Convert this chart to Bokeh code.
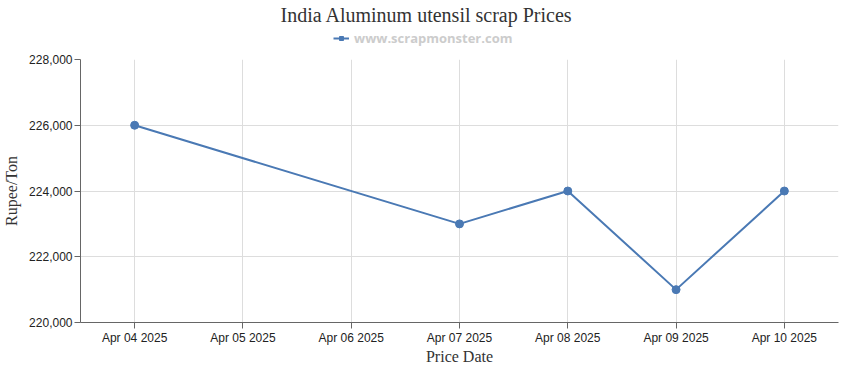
from datetime import datetime
from bokeh.plotting import figure
from bokeh.layouts import column
from bokeh.models import (Range1d, FixedTicker, DatetimeTickFormatter, NumeralTickFormatter,
                          Legend, LegendItem, Title, ColumnDataSource)
from bokeh.embed import file_html
from bokeh.resources import INLINE

dates = ["2025-04-04", "2025-04-07", "2025-04-08", "2025-04-09", "2025-04-10"]
prices = [226000, 223000, 224000, 221000, 224000]
tick_dates = ["2025-04-04", "2025-04-05", "2025-04-06", "2025-04-07",
              "2025-04-08", "2025-04-09", "2025-04-10"]
y_ticks = [220000, 222000, 224000, 226000, 228000]
title_text = "India Aluminum utensil scrap Prices"
series_name = "www.scrapmonster.com"

def ms(s):
    return datetime.strptime(s, "%Y-%m-%d").timestamp() * 1000

xs = [datetime.strptime(d, "%Y-%m-%d") for d in dates]
src = ColumnDataSource(dict(x=xs, y=prices))
col = "#4a79b4"

W = 850

# ---- header: title + legend ----
hdr = figure(width=W, height=50, output_backend="svg", toolbar_location=None,
             x_axis_location=None, y_axis_location=None,
             x_range=Range1d(0, 1), y_range=Range1d(0, 1),
             min_border_left=0, min_border_right=0, min_border_top=0, min_border_bottom=0)
hdr.grid.visible = False
hdr.outline_line_color = None
hdr.title = Title(text=title_text, align="left", text_font="Liberation Serif",
                  text_font_size="20px", text_font_style="normal", text_color="#333333",
                  standoff=2, offset=200)
h_line = hdr.line("x", "y", source=src, line_color=col, line_width=2)
h_pt = hdr.scatter("x", "y", source=src, marker="square", size=7, fill_color=col, line_color=col)
legend = Legend(items=[LegendItem(label=series_name, renderers=[h_line, h_pt])],
                orientation="horizontal", location=(253, 3),
                label_text_font="Open Sans", label_text_font_size="13px",
                label_text_font_style="bold", label_text_color="#cccccc",
                border_line_color=None, background_fill_alpha=0,
                glyph_width=16, glyph_height=10, label_standoff=5,
                padding=0, margin=0, spacing=0, label_height=14)
hdr.add_layout(legend)

# ---- main chart ----
day = 86400000
x0 = ms(tick_dates[0]) - day / 2
x1 = ms(tick_dates[-1]) + day / 2

p = figure(width=W, height=317, output_backend="svg", toolbar_location=None,
           x_axis_type="datetime", x_range=Range1d(x0, x1),
           y_range=Range1d(y_ticks[0], y_ticks[-1]),
           min_border_left=4, min_border_right=12, min_border_bottom=0, min_border_top=9)
p.outline_line_color = None

p.line("x", "y", source=src, line_color=col, line_width=2)
p.scatter("x", "y", source=src, size=8, fill_color=col, line_color=col)

p.xaxis.ticker = FixedTicker(ticks=[ms(d) for d in tick_dates])
p.xaxis.formatter = DatetimeTickFormatter(days="%b %d %Y", months="%b %d %Y", hours="%b %d %Y")
p.yaxis.ticker = FixedTicker(ticks=y_ticks)
p.yaxis.formatter = NumeralTickFormatter(format="0,0")

for ax in (p.xaxis[0], p.yaxis[0]):
    ax.axis_line_color = "#666666"
    ax.major_tick_line_color = "#666666"
    ax.major_tick_out = 6
    ax.major_tick_in = 0
    ax.minor_tick_line_color = None
    ax.major_label_text_font = "Liberation Sans"
    ax.major_label_text_font_size = "12px"
    ax.major_label_text_color = "#222222"
    ax.major_label_standoff = 2
    ax.axis_label_text_font = "Liberation Serif"
    ax.axis_label_text_font_size = "16px"
    ax.axis_label_text_font_style = "normal"
    ax.axis_label_text_color = "#333333"

p.xaxis.axis_label = "Price Date"
p.yaxis.axis_label = "Rupee/Ton"
p.xaxis.axis_label_standoff = 0
p.yaxis.axis_label_standoff = 6

p.xgrid.grid_line_color = "#dddddd"
p.ygrid.grid_line_color = "#dddddd"

layout = column(hdr, p, spacing=0)
open("out.html", "w").write(file_html(layout, INLINE))
